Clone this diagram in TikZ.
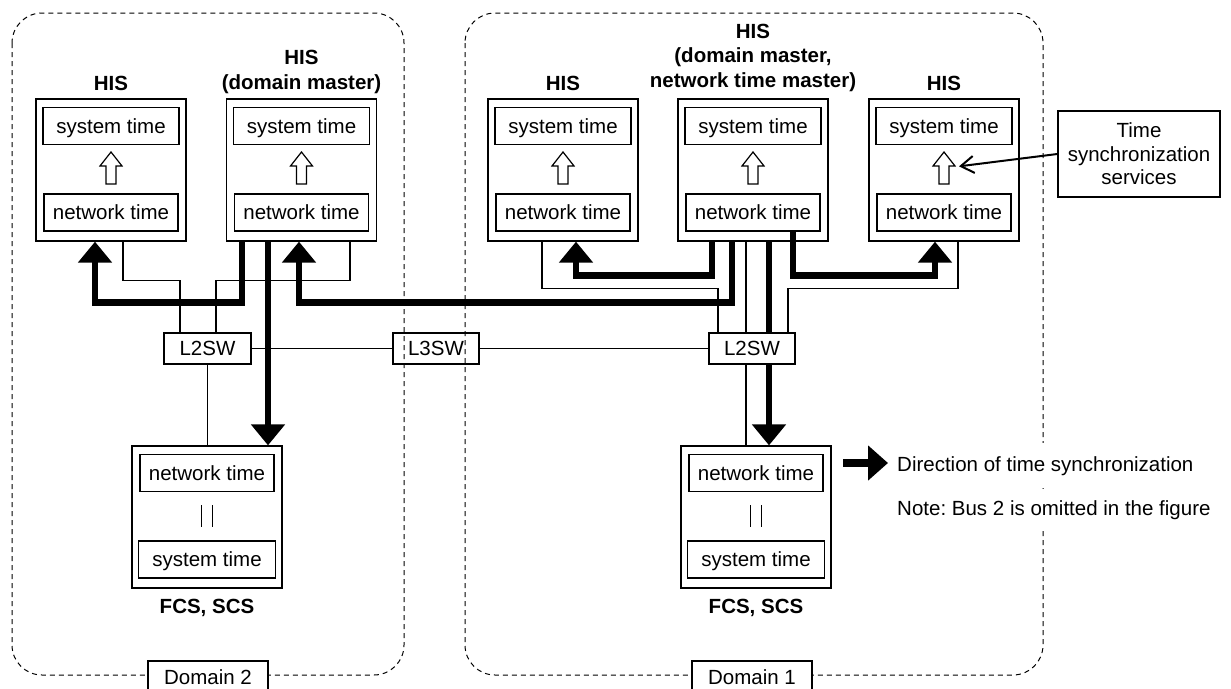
\documentclass[tikz,border=0pt]{standalone}
\usepackage{fontspec}
\setmainfont{Liberation Sans}
\usetikzlibrary{arrows.meta}
\frenchspacing
\begin{document}
\begin{tikzpicture}[x=1pt,y=-1pt,
  font=\fontsize{20.5pt}{23.5pt}\selectfont,
  every node/.style={inner sep=0pt},
  dom/.style={line width=1pt, dash pattern=on 5pt off 4pt, rounded corners=30pt},
  domlbl/.style={draw, line width=1.2pt, fill=white, minimum width=120pt, minimum height=32pt, text height=14pt, text depth=0pt},
  outer/.style={draw, line width=1.3pt, minimum width=150pt, minimum height=142pt},
  inner/.style={draw, line width=1.3pt, minimum width=136pt, minimum height=37pt, text height=14pt, text depth=0pt},
  lbl/.style={font=\fontsize{20.5pt}{23.5pt}\selectfont\bfseries, anchor=base},
  swbox/.style={draw, line width=1.2pt, fill=white, minimum width=87pt, minimum height=31pt, text height=14pt, text depth=0pt},
  wire/.style={line width=1.1pt},
  bigarrow/.style={line width=6.5pt, line join=miter, -{Triangle[width=33pt,length=21pt]}},
  bigline/.style={line width=6.5pt, line join=miter},
  hollow/.style={line width=1.2pt, fill=white, line join=miter},
  legtext/.style={fill=white, anchor=base west, inner ysep=13pt, text height=14.7pt, text depth=4.3pt},
]
\useasboundingbox (0,0) rectangle (1231,688);

% domains
\draw[dom] (12,13) rectangle (404,675);
\draw[dom] (465,13) rectangle (1043,675);
\node[domlbl] (d2lbl) at (208,677) {Domain 2};
\node[domlbl] (d1lbl) at (752,677) {Domain 1};

% HIS stations
\node[outer] (hisA) at (111,170) {};
\node[outer] (hisB) at (301.5,170) {};
\node[outer] (hisC) at (563,170) {};
\node[outer] (hisD) at (753,170) {};
\node[outer] (hisE) at (944,170) {};
\foreach \n/\x in {A/111,B/301.5,C/563,D/753,E/944} {
  \node[inner] (st\n) at (\x,126) {system time};
  \node[inner, minimum width=134pt] (nt\n) at (\x,212.5) {network time};
  \draw[hollow] (\x,152) -- ++(11,14) -- ++(-6,0) -- ++(0,18) -- ++(-10,0) -- ++(0,-18) -- ++(-6,0) -- cycle;
}
\node[lbl] (lA) at (111,90) {HIS};
\node[lbl] (lB1) at (301.5,64) {HIS};
\node[lbl] (lB2) at (301.5,89) {(domain master)};
\node[lbl] (lC) at (563,90) {HIS};
\node[lbl] (lD1) at (753,38) {HIS};
\node[lbl] (lD2) at (753,62) {(domain master,};
\node[lbl] (lD3) at (753,87) {network time master)};
\node[lbl] (lE) at (944,90) {HIS};

% time synchronization services
\node[draw, line width=1.3pt, minimum width=162pt, minimum height=86pt, align=center] (tss) at (1139,154) {Time\\synchronization\\services};
\coordinate (eTarget) at ([xshift=15pt,yshift=-68pt]hisE.north);
\draw[line width=2pt, -{Straight Barb[length=13pt,width=17pt]}] (tss.west) -- (eTarget);

% FCS / SCS
\node[outer] (fcsL) at (207,517) {};
\node[outer] (fcsR) at (756,517) {};
\foreach \n/\x in {L/207,R/756} {
  \node[inner, minimum width=134pt] (fnt\n) at (\x,473) {network time};
  \node[inner, minimum width=137pt] (fst\n) at (\x,559.5) {system time};
  \draw[line width=1.2pt] (\x-5.5,505) -- (\x-5.5,527) (\x+5.5,505) -- (\x+5.5,527);
  \node[lbl] (fl\n) at (\x,613) {FCS, SCS};
}

% switches
\node[swbox] (sw2) at (207.5,348.5) {L2SW};
\node[draw, line width=2pt, minimum width=86pt, minimum height=31pt, text height=14pt, text depth=0pt] (sw3) at (436,348.5) {L3SW};
\node[swbox, minimum width=86pt] (sw1) at (752,348.5) {L2SW};
\draw[line width=1.6pt] (sw2.east) -- (sw3.west);
\draw[line width=1.6pt] (sw3.east) -- (sw1.west);

% ports
\coordinate (aT) at ([xshift=12pt]hisA.south);
\coordinate (bT) at ([xshift=48.5pt]hisB.south);
\coordinate (sw2a) at ([xshift=-27.5pt]sw2.north);
\coordinate (sw2b) at ([xshift=8.5pt]sw2.north);
\coordinate (bA) at ([xshift=-59.5pt]hisB.south);
\coordinate (bF) at ([xshift=-33.5pt]hisB.south);
\coordinate (aIn) at ([xshift=-16pt]hisA.south);
\coordinate (bIn) at ([xshift=-2.5pt]hisB.south);
\coordinate (d1) at ([xshift=-41pt]hisD.south);
\coordinate (d2) at ([xshift=-21pt]hisD.south);
\coordinate (d3) at ([xshift=16pt]hisD.south);
\coordinate (d4) at ([xshift=40pt]ntD.south);
\coordinate (dT) at ([xshift=-7pt]hisD.south);
\coordinate (cIn) at ([xshift=13pt]hisC.south);
\coordinate (cT) at ([xshift=-21pt]hisC.south);
\coordinate (eIn) at ([xshift=-9pt]hisE.south);
\coordinate (eT) at ([xshift=14pt]hisE.south);
\coordinate (sw1a) at ([xshift=-34pt]sw1.north);
\coordinate (sw1c) at ([xshift=36pt]sw1.north);

% thin network wires
\draw[wire] (aT) -- ++(0,39) -| (sw2a);
\draw[wire] (bT) -- ++(0,39) -| (sw2b);
\draw[wire] (sw2.south) -- (sw2.south |- fcsL.north);
\draw[wire] (cT) -- ++(0,47) -| (sw1a);
\draw[wire] (eT) -- ++(0,47) -| (sw1c);
\draw[wire] (dT) -- (dT |- sw1.north);
\draw[wire] (dT |- sw1.south) -- (dT |- fcsR.north);

% thick synchronization arrows
\draw[bigarrow] (bA) -- ++(0,61) -| (aIn);
\draw[bigarrow] (bF) -- (bF |- fcsL.north);
\draw[bigarrow] (d2) -- ++(0,61) -| (bIn);
\draw[bigarrow] (d1) -- ++(0,34) -| (cIn);
\draw[bigarrow] (d4) -- ++(0,44) -| (eIn);
\draw[bigline] (d3) -- (d3 |- sw1.north);
\draw[bigarrow] (d3 |- sw1.south) -- (d3 |- fcsR.north);

% legend
\coordinate (legS) at (843,463);
\coordinate (legE) at (888,463);
\draw[line width=8pt, -{Triangle[width=34pt,length=20pt]}] (legS) -- (legE);
\node[legtext] (leg1) at (897,471) {Direction of time synchronization};
\node[legtext, inner ysep=11pt] (leg2) at (897,515) {Note: Bus 2 is omitted in the figure};
\end{tikzpicture}
\end{document}
